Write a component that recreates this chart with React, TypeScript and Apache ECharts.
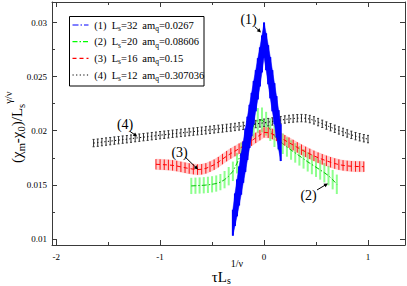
import React, { useEffect, useRef } from 'react';
import * as echarts from 'echarts';

const FONT = 'Liberation Serif';

// ---- axes ----
const X_MIN = -2.04;
const X_MAX = 1.356;
const Y_MIN = 0.00944;
const Y_MAX = 0.0319;
const X_MAJOR = [-2, -1, 0, 1];
const X_MINOR = [-1.5, -0.5, 0.5];
const Y_MAJOR = [0.01, 0.015, 0.02, 0.025, 0.03];
const Y_MINOR = [0.0125, 0.0175, 0.0225, 0.0275];

// ---- (1) Ls=32 ----
const S1_X = [-0.30, -0.28, -0.26, -0.24, -0.22, -0.20, -0.18, -0.16, -0.14, -0.12, -0.10, -0.08,
  -0.06, -0.04, -0.02, 0.00, 0.02, 0.04, 0.06, 0.08, 0.10, 0.12, 0.14, 0.16];
const S1_Y = [0.0115, 0.0127, 0.0138, 0.0149, 0.0160, 0.0171, 0.0182, 0.0193, 0.0204, 0.0215, 0.0226, 0.0237,
  0.0248, 0.0259, 0.0271, 0.0284, 0.0273, 0.0261, 0.0249, 0.0237, 0.0225, 0.0213, 0.0201, 0.0189];
const S1_E = [0.0012, 0.0015, 0.0017, 0.0018, 0.0019, 0.0019, 0.0020, 0.0020, 0.0020, 0.0020, 0.0020, 0.0019,
  0.0019, 0.0018, 0.0017, 0.0016, 0.0017, 0.0018, 0.0019, 0.0019, 0.0019, 0.0019, 0.0018, 0.0017];

// ---- (2) Ls=20 ----
const S2_X = [-0.70, -0.66, -0.62, -0.58, -0.54, -0.50, -0.46, -0.42, -0.38, -0.34, -0.30, -0.26,
  -0.22, -0.18, -0.14, -0.10, -0.06, -0.02, 0.02, 0.06, 0.10, 0.14, 0.18, 0.22,
  0.26, 0.30, 0.34, 0.38, 0.42, 0.46, 0.50, 0.54, 0.58, 0.62, 0.66, 0.70];
const S2_Y = [0.01490, 0.01492, 0.01494, 0.01496, 0.01500, 0.01505, 0.01512, 0.01525, 0.01548, 0.01580, 0.01625, 0.01700,
  0.01790, 0.01880, 0.01975, 0.02050, 0.02095, 0.02100, 0.02065, 0.02010, 0.01950, 0.01915, 0.01880, 0.01850,
  0.01822, 0.01795, 0.01768, 0.01740, 0.01713, 0.01688, 0.01663, 0.01638, 0.01612, 0.01585, 0.01548, 0.01505];
const S2_E = [0.00075, 0.00075, 0.00075, 0.00075, 0.00075, 0.00075, 0.00075, 0.00075, 0.0008, 0.00085, 0.0009, 0.00095,
  0.0010, 0.00105, 0.0011, 0.00115, 0.00115, 0.00115, 0.0011, 0.00105, 0.0010, 0.00095, 0.00095, 0.0009,
  0.0009, 0.0009, 0.0009, 0.0009, 0.0009, 0.0009, 0.0009, 0.0009, 0.0009, 0.0009, 0.0009, 0.0009];

// ---- (3) Ls=16 ----
const S3_X = [-1.04, -1.00, -0.96, -0.92, -0.88, -0.84, -0.80, -0.76, -0.72, -0.68,
  -0.64, -0.60, -0.56, -0.52, -0.48, -0.44, -0.40, -0.36, -0.32, -0.28,
  -0.24, -0.20, -0.16, -0.12, -0.08, -0.04, 0.00, 0.04, 0.08, 0.12,
  0.16, 0.20, 0.24, 0.28, 0.32, 0.36, 0.40, 0.44, 0.48, 0.52,
  0.56, 0.60, 0.64, 0.68, 0.72, 0.76, 0.80, 0.84, 0.88, 0.92, 0.96];
const S3_Y = [0.01690, 0.01688, 0.01686, 0.01684, 0.01680, 0.01674, 0.01666, 0.01658, 0.01651, 0.01645,
  0.01641, 0.01644, 0.01652, 0.01668, 0.01686, 0.01710, 0.01738, 0.01765, 0.01790, 0.01812,
  0.01834, 0.01858, 0.01882, 0.01908, 0.01934, 0.01960, 0.01985, 0.01982, 0.01970, 0.01953,
  0.01933, 0.01912, 0.01890, 0.01868, 0.01846, 0.01825, 0.01805, 0.01786, 0.01768, 0.01751,
  0.01736, 0.01722, 0.01709, 0.01697, 0.01687, 0.01680, 0.01675, 0.01672, 0.01670, 0.01669, 0.01668];
const S3_E = 0.00048;

// ---- (4) Ls=12 ----
const S4_X = [-1.64, -1.60, -1.56, -1.52, -1.48, -1.44, -1.40, -1.36, -1.32, -1.28,
  -1.24, -1.20, -1.16, -1.12, -1.08, -1.04, -1.00, -0.96, -0.92, -0.88,
  -0.84, -0.80, -0.76, -0.72, -0.68, -0.64, -0.60, -0.56, -0.52, -0.48,
  -0.44, -0.40, -0.36, -0.32, -0.28, -0.24, -0.20, -0.16, -0.12, -0.08,
  -0.04, 0.00, 0.04, 0.08, 0.12, 0.16, 0.20, 0.24, 0.28, 0.32,
  0.36, 0.40, 0.44, 0.48, 0.52, 0.56, 0.60, 0.64, 0.68, 0.72,
  0.76, 0.80, 0.84, 0.88, 0.92, 0.96, 1.00];
const S4_Y = [0.01886, 0.01890, 0.01895, 0.01900, 0.01904, 0.01909, 0.01913, 0.01918, 0.01922, 0.01927,
  0.01932, 0.01936, 0.01941, 0.01945, 0.01950, 0.01954, 0.01959, 0.01963, 0.01967, 0.01972,
  0.01976, 0.01980, 0.01984, 0.01988, 0.01992, 0.01996, 0.02000, 0.02004, 0.02008, 0.02013,
  0.02017, 0.02021, 0.02026, 0.02030, 0.02035, 0.02040, 0.02045, 0.02050, 0.02056, 0.02062,
  0.02068, 0.02074, 0.02080, 0.02086, 0.02092, 0.02098, 0.02104, 0.02109, 0.02113, 0.02116,
  0.02117, 0.02115, 0.02108, 0.02096, 0.02080, 0.02064, 0.02048, 0.02033, 0.02018, 0.02003,
  0.01989, 0.01975, 0.01962, 0.01950, 0.01940, 0.01931, 0.01923];
const S4_E = 0.00034;

// ---- legend / annotations ----
const LEGEND_TAG = ['(1)', '(2)', '(3)', '(4)'];
const LEGEND_LS = ['32', '20', '16', '12'];
const LEGEND_AMQ = ['0.0267', '0.08606', '0.15', '0.307036'];
const NOTE_POS = [[-0.149, 0.03029], [0.428, 0.01397], [-0.8125, 0.0180], [-1.337, 0.02054]];
const ARROW_FROM = [[-0.091, 0.02964], [0.51, 0.01453], [-0.76, 0.01758], [-1.29, 0.01994]];
const ARROW_TO = [[-0.029, 0.02909], [0.615, 0.01513], [-0.635, 0.01642], [-1.22, 0.01947]];

const LINE_COLORS = ['#0000ff', '#00ff00', '#ff0000', '#000000'];
const LINE_DASH = [[6, 2, 1.5, 2], [5, 2, 1.5, 2], [4, 3], [1.2, 2.4]];

type BarStyle = { color: string; width: number; band?: string; cap?: number };

function makeBars(xs: number[], ys: number[], es: number[] | number, st: BarStyle, z: number) {
  const err = (i: number) => (Array.isArray(es) ? es[i] : es);
  const data = xs.map((x, i) => {
    const j = Math.min(i + 1, xs.length - 1);
    return [x, ys[i], err(i), xs[j], ys[j], err(j)];
  });
  return {
    type: 'custom',
    xAxisIndex: 0,
    yAxisIndex: 0,
    z,
    silent: true,
    data,
    encode: { x: 0, y: 1 },
    renderItem: (_p: any, api: any) => {
      const x = api.value(0);
      const y = api.value(1);
      const e = api.value(2);
      const t = api.coord([x, y + e]);
      const b = api.coord([x, y - e]);
      const children: any[] = [];
      if (st.band) {
        const nx = api.value(3);
        const ny = api.value(4);
        const ne = api.value(5);
        const t2 = api.coord([nx, ny + ne]);
        const b2 = api.coord([nx, ny - ne]);
        children.push({ type: 'polygon', shape: { points: [t, t2, b2, b] }, style: { fill: st.band, stroke: st.band, lineWidth: 0.5 } });
      }
      children.push({ type: 'line', shape: { x1: t[0], y1: t[1], x2: b[0], y2: b[1] }, style: { stroke: st.color, lineWidth: st.width } });
      if (st.cap) {
        const c = st.cap;
        children.push({ type: 'line', shape: { x1: t[0] - c, y1: t[1], x2: t[0] + c, y2: t[1] }, style: { stroke: st.color, lineWidth: 1 } });
        children.push({ type: 'line', shape: { x1: b[0] - c, y1: b[1], x2: b[0] + c, y2: b[1] }, style: { stroke: st.color, lineWidth: 1 } });
      }
      return { type: 'group', children };
    },
  };
}

function makeLine(xs: number[], ys: number[], color: string, dash: number[], z: number) {
  return {
    type: 'line',
    xAxisIndex: 0,
    yAxisIndex: 0,
    z,
    silent: true,
    showSymbol: false,
    symbol: 'none',
    data: xs.map((x, i) => [x, ys[i]]),
    lineStyle: { color, width: 1, type: dash },
  };
}

const measureCtx = (() => {
  const c = document.createElement('canvas');
  return c.getContext('2d') as CanvasRenderingContext2D;
})();
function tw(t: string, s: number) {
  measureCtx.font = `${s}px "${FONT}"`;
  return measureCtx.measureText(t).width;
}
function textRun(x0: number, base: number, parts: Array<[string, number, number]>) {
  const out: any[] = [];
  let x = x0;
  for (const [t, s, dy] of parts) {
    out.push({
      type: 'text',
      x,
      y: base + dy - 0.36 * s,
      silent: true,
      style: {
        text: t, fontSize: s, fontFamily: FONT, fill: '#000',
        textAlign: 'left', textVerticalAlign: 'middle', align: 'left', verticalAlign: 'middle',
      },
    });
    x += tw(t, s);
  }
  return out;
}

const AX = { color: '#3a3a3a', width: 1 };

function xAxisDef(pos: 'bottom' | 'top', values: number[], len: number, labels: boolean, line: boolean) {
  return {
    type: 'value', min: X_MIN, max: X_MAX, position: pos,
    axisLine: { show: line, onZero: false, lineStyle: AX },
    axisTick: { show: true, inside: true, length: len, customValues: values, lineStyle: AX },
    axisLabel: { show: labels, customValues: values, color: '#000', fontFamily: FONT, fontSize: 9, margin: 7 },
    splitLine: { show: false },
  };
}
function yAxisDef(pos: 'left' | 'right', values: number[], len: number, labels: boolean, line: boolean) {
  return {
    type: 'value', min: Y_MIN, max: Y_MAX, position: pos,
    axisLine: { show: line, onZero: false, lineStyle: AX },
    axisTick: { show: true, inside: true, length: len, customValues: values, lineStyle: AX },
    axisLabel: { show: labels, customValues: values, color: '#000', fontFamily: FONT, fontSize: 9, margin: 5 },
    splitLine: { show: false },
  };
}

export default function App() {
  const ref = useRef<HTMLDivElement>(null);
  useEffect(() => {
    if (!ref.current) return;
    const chart = echarts.init(ref.current, undefined, { renderer: 'svg' });
    chart.setOption({
      animation: false,
      backgroundColor: '#ffffff',
      grid: { left: 52, right: 2, top: 2, bottom: 41, containLabel: false, outerBoundsMode: 'none' },
      xAxis: [
        xAxisDef('bottom', X_MAJOR, 5, true, true),
        xAxisDef('top', X_MAJOR, 5, false, true),
        xAxisDef('bottom', X_MINOR, 3, false, false),
        xAxisDef('top', X_MINOR, 3, false, false),
      ],
      yAxis: [
        yAxisDef('left', Y_MAJOR, 5, true, true),
        yAxisDef('right', Y_MAJOR, 5, false, true),
        yAxisDef('left', Y_MINOR, 3, false, false),
        yAxisDef('right', Y_MINOR, 3, false, false),
      ],
      series: [
        makeBars(S2_X, S2_Y, S2_E, { color: '#8dff8d', width: 2 }, 2),
        makeLine(S2_X, S2_Y, '#00c000', LINE_DASH[1], 3),
        makeBars(S3_X, S3_Y, S3_E, { color: '#ff1a1a', width: 1, band: 'rgba(255,110,110,0.35)' }, 4),
        makeLine(S3_X, S3_Y, '#ff0000', LINE_DASH[2], 5),
        makeBars(S4_X, S4_Y, S4_E, { color: '#333333', width: 1, cap: 1 }, 6),
        makeLine(S4_X, S4_Y, '#000000', LINE_DASH[3], 7),
        makeBars(S1_X, S1_Y, S1_E, { color: '#0000ff', width: 2, band: '#0000ff' }, 8),
        makeLine(S1_X, S1_Y, '#0000ff', LINE_DASH[0], 9),
      ],
    });

    const px = (p: number[]) => chart.convertToPixel({ xAxisIndex: 0, yAxisIndex: 0 }, p) as number[];
    const els: any[] = [];

    // legend box
    els.push({ type: 'rect', shape: { x: 69.5, y: 16.5, width: 134.5, height: 69.5 }, style: { fill: '#fff', stroke: '#000', lineWidth: 1 }, z: 20 });
    LEGEND_TAG.forEach((tag, i) => {
      const cy = 25 + i * 16.67;
      els.push({ type: 'line', z: 21, shape: { x1: 72.5, y1: cy, x2: 88.5, y2: cy }, style: { stroke: LINE_COLORS[i], lineWidth: 1.2, lineDash: LINE_DASH[i] } });
      const base = cy + 3.8;
      [...textRun(94.3, base, [[tag, 10.5, 0]]),
        ...textRun(111.7, base, [['L', 10.5, 0], ['s', 7.5, 2.5], ['=' + LEGEND_LS[i], 10.5, 0]]),
        ...textRun(142.3, base, [['am', 10.5, 0], ['q', 7.5, 2.5], ['=' + LEGEND_AMQ[i], 10.5, 0]]),
      ].forEach((e) => els.push({ ...e, z: 22 }));
    });

    // annotations
    NOTE_POS.forEach((p, i) => {
      const c = px(p);
      els.push({ type: 'text', x: c[0], y: c[1], z: 20, silent: true, style: { text: LEGEND_TAG[i], fontSize: 14, fontFamily: FONT, fill: '#000', textAlign: 'center', textVerticalAlign: 'middle', align: 'center', verticalAlign: 'middle' } });
      const a = px(ARROW_FROM[i]);
      const b = px(ARROW_TO[i]);
      const dx = b[0] - a[0];
      const dy = b[1] - a[1];
      const L = Math.hypot(dx, dy) || 1;
      const ux = dx / L, uy = dy / L;
      const nx = -uy, ny = ux;
      const hl = 4, hw = 2;
      els.push({ type: 'line', z: 20, silent: true, shape: { x1: a[0], y1: a[1], x2: b[0] - ux * 3, y2: b[1] - uy * 3 }, style: { stroke: '#000', lineWidth: 1 } });
      els.push({ type: 'polygon', z: 20, silent: true, shape: { points: [[b[0], b[1]], [b[0] - ux * hl + nx * hw, b[1] - uy * hl + ny * hw], [b[0] - ux * hl - nx * hw, b[1] - uy * hl - ny * hw]] }, style: { fill: '#000' } });
    });

    // axis names
    els.push(...textRun(211.7, 282.5, [['τL', 15, 0], ['s', 10, 2], ['1/ν', 10, -15]]));
    els.push({
      type: 'group', x: 22.5, y: 163, rotation: Math.PI / 2, silent: true,
      children: textRun(0, 0, [['(χ', 15, 0], ['m', 10.5, 2.5], ['-χ', 15, 0], ['0', 10.5, 2.5], [')/L', 15, 0], ['s', 10.5, 2.5], ['γ/ν', 10.5, -10.5]]),
    });

    chart.setOption({ graphic: { elements: els } });
    return () => chart.dispose();
  }, []);
  return <div ref={ref} style={{ position: 'absolute', left: 0, top: 0, width: 407, height: 286 }} />;
}
